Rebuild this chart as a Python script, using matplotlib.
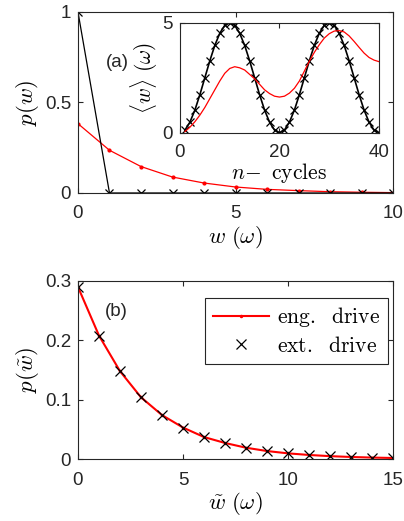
import matplotlib
matplotlib.use("Agg")
import matplotlib.pyplot as plt
import numpy as np

plt.rcParams['font.family'] = ['Liberation Sans', 'DejaVu Sans']
plt.rcParams['mathtext.fontset'] = 'cm'

# ---- data ----
w_a = [0, 1, 2, 3, 4, 5, 6, 7, 8, 9, 10]
p_eng_a = [0.383, 0.236, 0.146, 0.088, 0.055, 0.033, 0.020, 0.013, 0.007, 0.004, 0.002]
p_ext_a = [1.0, 0, 0, 0, 0, 0, 0, 0, 0, 0, 0]

n_cycles = list(range(1, 41))
w_ext_inset = [0.12, 0.48, 1.03, 1.73, 2.5, 3.27, 3.97, 4.52, 4.88, 5.0,
               4.88, 4.52, 3.97, 3.27, 2.5, 1.73, 1.03, 0.48, 0.12, 0.0,
               0.12, 0.48, 1.03, 1.73, 2.5, 3.27, 3.97, 4.52, 4.88, 5.0,
               4.88, 4.52, 3.97, 3.27, 2.5, 1.73, 1.03, 0.48, 0.12, 0.0]
w_eng_inset = [0.05, 0.25, 0.5, 0.8, 1.15, 1.55, 1.95, 2.35, 2.7, 2.92,
               3.0, 2.95, 2.85, 2.65, 2.45, 2.2, 1.95, 1.78, 1.66, 1.62,
               1.66, 1.8, 2.02, 2.35, 2.8, 3.25, 3.65, 4.0, 4.3, 4.5,
               4.62, 4.64, 4.58, 4.4, 4.15, 3.88, 3.62, 3.42, 3.3, 3.23]

w_b = list(range(0, 16))
p_b = [0.29, 0.208, 0.148, 0.104, 0.074, 0.053, 0.037, 0.027, 0.019,
       0.0134, 0.0095, 0.0068, 0.0048, 0.0034, 0.0024, 0.0017]

AX = (0.15, 0.15, 0.15)
TICKFS = 13.5
LABFS = 16.5

fig = plt.figure(figsize=(4.04, 5.21), dpi=100)

def style(ax, xpad=9):
    for s in ax.spines.values():
        s.set_color(AX)
        s.set_linewidth(0.8)
    ax.tick_params(direction='in', top=True, right=True, length=3.5,
                   width=0.8, color=AX, labelsize=TICKFS, labelcolor=AX)
    ax.tick_params(axis='x', pad=xpad)
    ax.tick_params(axis='y', pad=5)

# ---- panel (a) ----
axa = fig.add_axes([0.193, 0.6296, 0.780, 0.3474])
axa.plot(w_a, p_eng_a, '-', color='red', lw=0.9, marker='.', ms=4)
axa.plot(w_a, p_ext_a, '-', color='black', lw=0.9, marker='x', ms=6, mew=0.9)
axa.set_xlim(0, 10)
axa.set_ylim(0, 1)
axa.set_xticks([0, 5, 10])
axa.set_yticks([0, 0.5, 1])
axa.set_yticklabels(['0', '0.5', '1'])
style(axa)
axa.set_xlabel(r'$w\ (\omega)$', fontsize=LABFS, labelpad=1)
axa.set_ylabel(r'$p(w)$', fontsize=LABFS, labelpad=3)
axa.text(0.89, 0.72, '(a)', fontsize=TICKFS, color=AX, ha='left', va='center')

# ---- inset ----
axi = fig.add_axes([0.4455, 0.7453, 0.4926, 0.2111])
axi.plot(n_cycles, w_ext_inset, '-', color='black', lw=1.2, marker='x', ms=6, mew=0.9)
axi.plot(n_cycles, w_eng_inset, '-', color='red', lw=0.9)
axi.set_xlim(0, 40)
axi.set_ylim(0, 5)
axi.set_xticks([0, 20, 40])
axi.set_yticks([0, 5])
style(axi, xpad=8)
axi.set_xlabel(r'$n\!-\ \mathrm{cycles}$', fontsize=LABFS - 1, labelpad=0)
axi.set_ylabel(r'$\langle w\rangle\ (\omega)$', fontsize=LABFS - 1, labelpad=2)

# ---- panel (b) ----
axb = fig.add_axes([0.193, 0.119, 0.780, 0.3417])
axb.plot(w_b, p_b, '-', color='red', lw=1.5, marker='.', ms=3,
         label=r'$\mathrm{eng.\ \ drive}$')
axb.plot(w_b, p_b, 'x', color='black', ms=7, mew=0.9,
         label=r'$\mathrm{ext.\ \ drive}$')
axb.set_xlim(0, 15)
axb.set_ylim(0, 0.3)
axb.set_xticks([0, 5, 10, 15])
axb.set_yticks([0, 0.1, 0.2, 0.3])
axb.set_yticklabels(['0', '0.1', '0.2', '0.3'])
style(axb)
axb.set_xlabel(r'$\tilde{w}\ (\omega)$', fontsize=LABFS, labelpad=1)
axb.set_ylabel(r'$p(\tilde{w})$', fontsize=LABFS, labelpad=3)
axb.text(1.29, 0.248, '(b)', fontsize=TICKFS, color=AX, ha='left', va='center')
leg = axb.legend(loc='upper right', bbox_to_anchor=(0.984, 0.905),
                 fontsize=15.5, frameon=True, fancybox=False,
                 framealpha=1, edgecolor=AX, handlelength=2.6, handletextpad=0.4,
                 borderaxespad=0.0, borderpad=0.35, labelspacing=0.3)
leg.get_frame().set_linewidth(0.8)

fig.savefig('out.png', dpi=100)
